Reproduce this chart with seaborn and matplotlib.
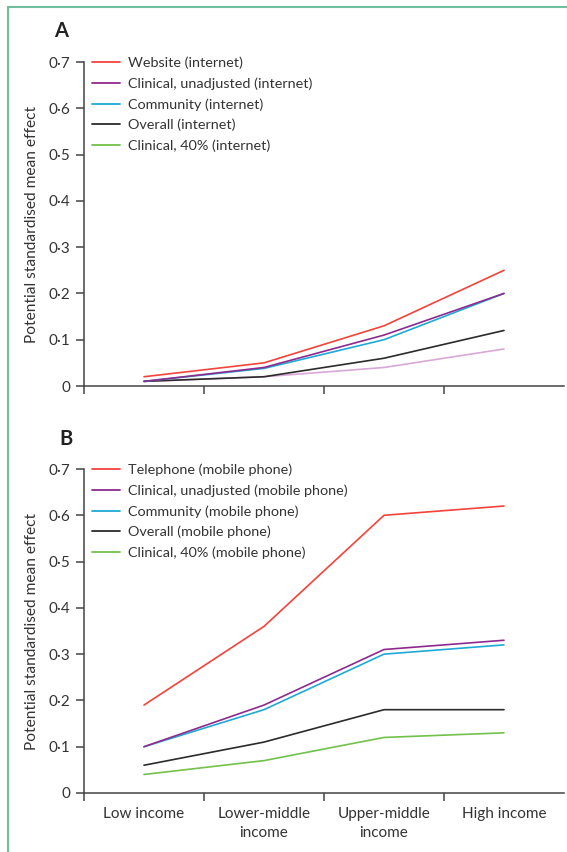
import matplotlib
matplotlib.use("Agg")
import matplotlib.pyplot as plt
from matplotlib.lines import Line2D
import seaborn as sns
import pandas as pd

categories = ["Low income", "Lower-middle\nincome", "Upper-middle\nincome", "High income"]

# Panel A (internet)
a_labels = ["Website (internet)", "Clinical, unadjusted (internet)", "Community (internet)",
            "Overall (internet)", "Clinical, 40% (internet)"]
a_website = [0.02, 0.05, 0.13, 0.25]
a_clin_unadj = [0.01, 0.04, 0.11, 0.20]
a_community = [0.01, 0.038, 0.10, 0.20]
a_overall = [0.01, 0.02, 0.06, 0.12]
a_clin40 = [0.01, 0.02, 0.04, 0.08]

# Panel B (mobile phone)
b_labels = ["Telephone (mobile phone)", "Clinical, unadjusted (mobile phone)", "Community (mobile phone)",
            "Overall (mobile phone)", "Clinical, 40% (mobile phone)"]
b_telephone = [0.19, 0.36, 0.60, 0.62]
b_clin_unadj = [0.10, 0.19, 0.31, 0.33]
b_community = [0.10, 0.18, 0.30, 0.32]
b_overall = [0.06, 0.11, 0.18, 0.18]
b_clin40 = [0.04, 0.07, 0.12, 0.13]

yticks = [0, 0.1, 0.2, 0.3, 0.4, 0.5, 0.6, 0.7]
ytick_labels = ["0", "0·1", "0·2", "0·3", "0·4", "0·5", "0·6", "0·7"]

RED = "#f4433a"
PURPLE = "#8e2a8e"
CYAN = "#1fa9d6"
BLACK = "#2b2b2b"
GREEN = "#72c14a"
PINK = "#d9a8d6"
SPINE = "#444444"
TEXT = "#333333"

sns.set_theme(style="white")
plt.rcParams["font.family"] = ["Lato", "DejaVu Sans"]

fig = plt.figure(figsize=(5.67, 8.52), dpi=100)
W, H = 567, 852


def make_df(labels, series):
    rows = []
    for lab, vals in zip(labels, series):
        for i, v in enumerate(vals):
            rows.append({"x": i, "y": v, "series": lab})
    return pd.DataFrame(rows)


def panel(rect_px, labels, series, line_colors, legend_colors, letter, letter_xy):
    left, top, right, bottom = rect_px
    ax = fig.add_axes([left / W, 1 - bottom / H, (right - left) / W, (bottom - top) / H])
    df = make_df(labels, series)
    sns.lineplot(data=df, x="x", y="y", hue="series", palette=dict(zip(labels, line_colors)),
                 hue_order=labels[::-1], ax=ax, linewidth=1.2, legend=False)
    ax.set_xlim(-0.5, 3.5)
    ax.set_ylim(0, 0.7)
    ax.set_yticks(yticks)
    ax.set_yticklabels(ytick_labels)
    ax.set_xticks([-0.5, 0.5, 1.5, 2.5])
    ax.set_xticklabels([])
    ax.set_xticks(range(4), minor=True)
    ax.set_xlabel("")
    ax.set_ylabel("Potential standardised mean effect", fontsize=11.2, color=TEXT, labelpad=7)
    for s in ["top", "right"]:
        ax.spines[s].set_visible(False)
    for s in ["left", "bottom"]:
        ax.spines[s].set_color(SPINE)
        ax.spines[s].set_linewidth(1.1)
    ax.tick_params(axis="both", which="major", direction="out", length=6, width=1.1,
                   color=SPINE, labelsize=11, labelcolor=TEXT, pad=4,
                   left=True, bottom=True)
    ax.tick_params(axis="x", which="minor", length=0, labelsize=11, labelcolor=TEXT, pad=10)
    handles = [Line2D([0], [0], color=c, lw=1.3) for c in legend_colors]
    leg = ax.legend(handles, labels, loc="upper left", bbox_to_anchor=(-0.005, 1.048),
                    frameon=False, fontsize=10.4, handlelength=1.95, handletextpad=0.55,
                    labelspacing=0.57, borderaxespad=0.3)
    for t in leg.get_texts():
        t.set_color(TEXT)
    fig.text(letter_xy[0] / W, 1 - letter_xy[1] / H, letter, fontsize=14.5, fontweight="bold",
             color="#222222", va="center", ha="center")
    return ax


axA = panel((84, 62, 564, 386), a_labels,
            [a_website, a_clin_unadj, a_community, a_overall, a_clin40],
            [RED, PURPLE, CYAN, BLACK, PINK], [RED, PURPLE, CYAN, BLACK, GREEN], "A", (61, 31))
axB = panel((84, 469, 564, 793), b_labels,
            [b_telephone, b_clin_unadj, b_community, b_overall, b_clin40],
            [RED, PURPLE, CYAN, BLACK, GREEN], [RED, PURPLE, CYAN, BLACK, GREEN], "B", (66, 439))
axB.set_xticklabels(categories, minor=True, linespacing=1.45, va="top")

# green frame lines (top and left)
FRAME = "#6fbf9f"
fig.add_artist(Line2D([8 / W, 1.0], [1 - 7 / H, 1 - 7 / H], transform=fig.transFigure,
                      color=FRAME, lw=1.5))
fig.add_artist(Line2D([8 / W, 8 / W], [0.0, 1 - 7 / H], transform=fig.transFigure,
                      color=FRAME, lw=1.5))

fig.savefig("out.png", dpi=100, facecolor="white")
